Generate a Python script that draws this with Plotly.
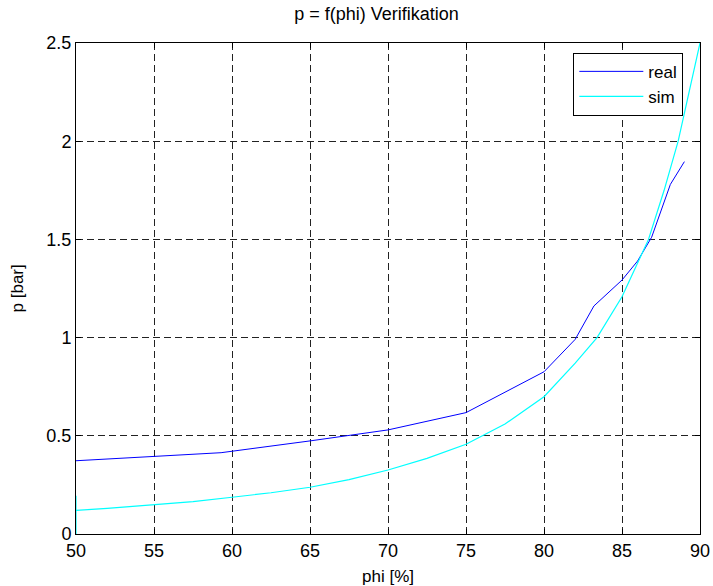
import plotly.graph_objects as go

real_phi = [50, 55, 59.3, 65, 70, 75, 80, 82, 83.2, 85, 86, 86.9, 88.1, 89]
real_p = [0.373, 0.394, 0.414, 0.474, 0.53, 0.618, 0.826, 0.991, 1.161, 1.293, 1.39, 1.511, 1.78, 1.896]

sim_phi = [50, 50, 50, 52, 55, 57.5, 60, 62.5, 65, 67.5, 70, 72.5, 75, 77.5, 80, 82, 83.4, 85, 86.7, 87.7, 88.6, 89.3, 90]
sim_p = [0.195, 0.0, 0.12, 0.13, 0.148, 0.165, 0.187, 0.21, 0.238, 0.277, 0.326, 0.385, 0.457, 0.56, 0.699, 0.87, 1.0, 1.208, 1.5, 1.75, 2.0, 2.25, 2.5]

x_ticks = [50, 55, 60, 65, 70, 75, 80, 85, 90]
y_ticks = [0, 0.5, 1, 1.5, 2, 2.5]
y_tick_labels = ["0", "0.5", "1", "1.5", "2", "2.5"]

font = "Liberation Sans, Arial, sans-serif"

fig = go.Figure()
fig.add_trace(go.Scatter(x=real_phi, y=real_p, mode="lines", name="real",
                         line=dict(color="#0000ff", width=1)))
fig.add_trace(go.Scatter(x=sim_phi, y=sim_p, mode="lines", name="sim",
                         line=dict(color="#00ffff", width=1.2)))

axis_common = dict(
    showline=True, linecolor="black", linewidth=1, mirror="allticks",
    ticks="inside", ticklen=5, tickcolor="black",
    showgrid=True, gridcolor="#222222", gridwidth=1, griddash="7px,4px",
    zeroline=False, automargin=False,
    tickfont=dict(family=font, size=18, color="black"),
)

fig.update_xaxes(range=[50, 90], tickvals=x_ticks, **axis_common)
fig.update_yaxes(range=[0, 2.5], tickvals=y_ticks, ticktext=y_tick_labels, **axis_common)

fig.add_annotation(text="phi [%]", xref="paper", yref="paper", x=0.5, y=-0.087,
                   xanchor="center", yanchor="middle", showarrow=False,
                   font=dict(family=font, size=17, color="black"))
fig.add_annotation(text="p [bar]", xref="paper", yref="paper", x=-0.093, y=0.5,
                   xanchor="center", yanchor="middle", showarrow=False, textangle=-90,
                   font=dict(family=font, size=17, color="black"))

fig.update_layout(
    width=713, height=586,
    margin=dict(l=76, r=13, t=43, b=52),
    paper_bgcolor="white", plot_bgcolor="white",
    title=dict(text="p = f(phi) Verifikation", x=0.528, xanchor="center", y=0.976, yanchor="middle",
               font=dict(family=font, size=18, color="black")),
    legend=dict(x=0.797, y=0.98, xanchor="left", yanchor="top",
                bgcolor="white", bordercolor="black", borderwidth=1,
                font=dict(family=font, size=17, color="black"), itemwidth=64,
                tracegroupgap=0),
    showlegend=True,
)

fig.write_html("out.html")
